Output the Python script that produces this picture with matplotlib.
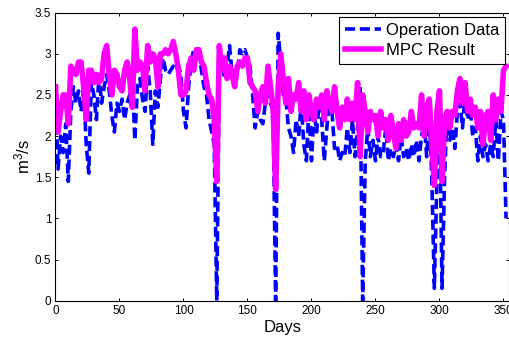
import matplotlib
matplotlib.use('Agg')
import matplotlib.pyplot as plt
import numpy as np

plt.rcParams['font.family'] = ['Liberation Sans', 'DejaVu Sans']
plt.rcParams['mathtext.fontset'] = 'custom'
plt.rcParams['mathtext.rm'] = 'Liberation Sans'

# one value every 2 days
days = np.arange(0, 354, 2)

operation = [
  2.5, 1.6, 2.0, 1.8, 2.15, 1.45, 2.3, 2.6, 2.4, 2.55,
  2.3, 2.6, 1.9, 1.55, 2.65, 2.5, 2.2, 2.75, 2.4, 2.6,
  2.75, 2.55, 2.25, 2.05, 2.4, 2.3, 2.45, 2.2, 2.4, 2.5,
  2.7, 1.95, 2.6, 2.7, 2.45, 2.3, 2.85, 2.55, 1.9, 2.55,
  2.35, 2.7, 2.95, 2.8, 2.75, 2.8, 2.85, 2.8, 2.85, 2.75,
  2.3, 2.1, 2.6, 2.9, 3.05, 2.95, 3.05, 2.8, 2.6, 2.5,
  2.2, 2.05, 1.9, 0.0, 2.85, 2.95, 2.7, 2.85, 3.1, 2.75,
  2.8, 2.75, 3.05, 3.0, 3.05, 2.95, 2.85, 2.5, 2.1, 2.3,
  2.2, 2.15, 2.4, 2.6, 2.4, 2.3, 0.0, 3.25, 2.9, 2.5,
  2.45, 2.1, 2.0, 1.8, 2.2, 2.0, 2.4, 1.9, 1.7, 2.35,
  1.7, 2.3, 2.05, 2.4, 2.2, 1.7, 2.1, 2.45, 2.3, 1.85,
  1.9, 1.7, 1.8, 1.75, 2.1, 1.8, 2.2, 1.75, 2.1, 2.6,
  0.0, 1.7, 2.1, 1.75, 1.95, 1.7, 2.0, 1.75, 1.8, 2.1,
  1.7, 1.85, 1.75, 1.9, 1.7, 2.0, 1.75, 1.85, 1.7, 1.9,
  1.75, 1.95, 1.7, 2.0, 2.2, 1.75, 2.3, 1.5, 0.15, 1.5,
  2.35, 0.15, 1.5, 2.3, 1.95, 2.1, 1.85, 2.3, 2.4, 2.1,
  2.5, 2.2, 2.35, 2.0, 2.1, 1.7, 2.0, 1.75, 1.9, 1.7,
  1.9, 1.75, 2.2, 1.7, 2.3, 2.2, 1.0,
]

mpc = [
  2.6, 2.05, 2.3, 2.5, 2.5, 2.15, 2.85, 2.8, 2.75, 2.9,
  2.9, 2.6, 2.2, 2.8, 2.8, 2.65, 2.75, 2.65, 2.7, 3.0,
  3.1, 2.75, 2.5, 2.8, 2.75, 2.6, 2.55, 2.8, 2.9, 2.7,
  2.35, 3.3, 2.8, 2.9, 2.85, 2.55, 3.1, 2.9, 3.0, 2.95,
  2.6, 3.0, 3.0, 3.05, 3.0, 3.05, 3.15, 3.0, 2.8, 2.5,
  2.5, 2.55, 2.85, 2.95, 2.8, 3.05, 3.05, 2.9, 2.85, 2.65,
  2.5, 2.45, 2.2, 1.45, 3.1, 2.8, 2.95, 2.7, 2.85, 2.75,
  2.6, 2.85, 2.9, 2.85, 2.95, 2.95, 2.65, 2.6, 2.55, 2.3,
  2.5, 2.6, 2.4, 2.85, 2.6, 2.35, 1.35, 2.6, 3.0, 2.7,
  2.4, 2.7, 2.3, 2.5, 2.45, 2.65, 2.3, 2.55, 2.2, 2.5,
  2.3, 2.2, 2.45, 2.35, 2.5, 2.2, 2.55, 2.4, 2.3, 2.6,
  2.3, 2.1, 2.35, 2.2, 2.45, 2.2, 2.4, 2.2, 2.65, 1.75,
  2.5, 2.3, 2.05, 2.3, 2.2, 2.25, 2.0, 2.3, 2.1, 2.2,
  1.95, 2.25, 2.05, 1.85, 2.15, 1.95, 2.2, 2.0, 2.05, 2.3,
  2.1, 2.15, 2.1, 2.5, 2.0, 2.35, 2.45, 1.9, 1.4, 2.3,
  2.55, 1.45, 2.2, 2.3, 2.1, 2.3, 2.25, 2.55, 2.7, 2.4,
  2.65, 2.3, 2.45, 2.25, 2.35, 2.1, 2.3, 1.9, 2.25, 2.3,
  1.95, 2.5, 2.2, 2.45, 2.3, 2.8, 2.85,
]

xticks = [0, 50, 100, 150, 200, 250, 300, 350]
yticks = [0, 0.5, 1, 1.5, 2, 2.5, 3, 3.5]
ytick_labels = ['0', '0.5', '1', '1.5', '2', '2.5', '3', '3.5']

fig = plt.figure(figsize=(5.1, 3.38), dpi=100)
ax = fig.add_axes([0.1088, 0.1104, 0.8892, 0.8521])

ax.plot(days, operation, color='#0000ff', lw=2.6, ls=(0, (2.8, 1.3)),
        label='Operation Data')
ax.plot(days, mpc, color='#ff00ff', lw=4.0, label='MPC Result')

ax.set_xlim(0, 354.3)
ax.set_ylim(0, 3.5)
ax.set_xticks(xticks)
ax.set_yticks(yticks)
ax.set_yticklabels(ytick_labels)
ax.tick_params(direction='in', top=True, right=True, length=2.5,
               width=0.7, labelsize=8.5, pad=3)
for s in ax.spines.values():
  s.set_linewidth(0.8)

ax.set_xlabel('Days', fontsize=12, labelpad=2)
ax.set_ylabel(r'$\mathregular{m^3/s}$', fontsize=12, labelpad=2)

leg = ax.legend(loc='upper right', fontsize=12, fancybox=False,
                edgecolor='black', framealpha=1, borderaxespad=0.25,
                borderpad=0.35, handlelength=2.2, handletextpad=0.25,
                labelspacing=0.3)
leg.get_frame().set_linewidth(0.8)

fig.savefig('out.png', dpi=100)
